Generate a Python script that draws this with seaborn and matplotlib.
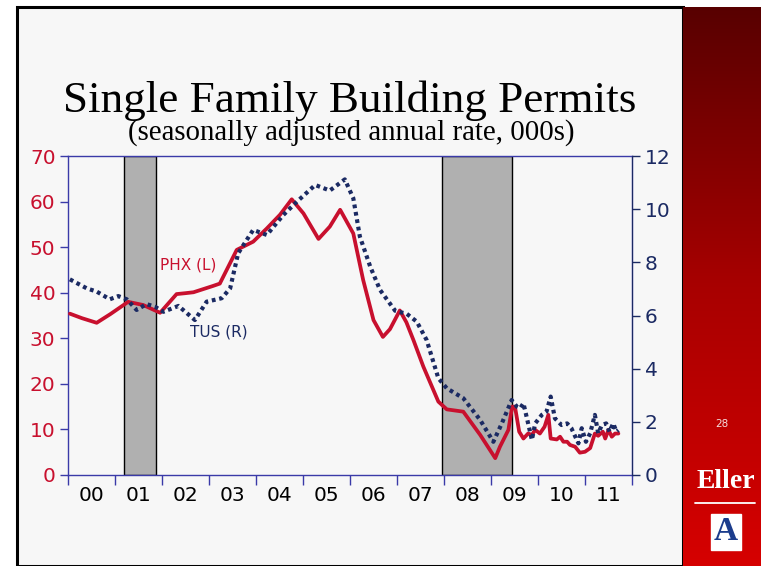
import numpy as np
import matplotlib
matplotlib.use("Agg")
import matplotlib.pyplot as plt
import seaborn as sns
from matplotlib.patches import Rectangle
from matplotlib.lines import Line2D

# Phoenix permits (left axis, 000s), x = years since Jan 2000
phx_t = [0.04, 0.3, 0.61, 0.9, 1.28, 1.6, 1.96, 2.31, 2.5, 2.67, 3.09, 3.23, 3.59, 3.94,
         4.23, 4.51, 4.76, 5.01, 5.33, 5.57, 5.79, 6.07, 6.28, 6.5, 6.7, 6.85, 7.06, 7.2,
         7.35, 7.56, 7.88, 8.06, 8.41, 8.77, 9.09, 9.19, 9.37, 9.45, 9.51, 9.6, 9.69, 9.79,
         9.87, 9.94, 10.04, 10.14, 10.22, 10.27, 10.4, 10.47, 10.54, 10.62, 10.68, 10.79,
         10.89, 11.0, 11.11, 11.21, 11.28, 11.38, 11.43, 11.5, 11.57, 11.64, 11.71]
phx_v = [35.4, 34.4, 33.4, 35.3, 38.0, 37.3, 35.6, 39.7, 39.9, 40.1, 41.5, 42.0, 49.4, 51.2,
         54.1, 57.1, 60.5, 57.4, 51.8, 54.5, 58.2, 53.0, 42.8, 34.0, 30.3, 32.0, 36.1, 33.5,
         29.6, 23.8, 16.1, 14.4, 13.9, 8.8, 3.7, 6.2, 9.9, 15.0, 15.0, 9.5, 8.0, 9.1,
         8.8, 9.9, 9.1, 10.6, 13.2, 8.0, 7.8, 8.4, 7.3, 7.3, 6.6, 6.2,
         4.9, 5.1, 5.9, 9.1, 8.6, 9.5, 8.0, 9.9, 8.4, 9.1, 9.1]

# Tucson permits (right axis, 000s)
tus_t = [0.04, 0.4, 0.61, 0.89, 1.07, 1.25, 1.46, 1.67, 1.85, 2.03, 2.35, 2.7, 2.95, 3.27,
         3.45, 3.62, 3.94, 4.23, 4.58, 4.87, 5.26, 5.57, 5.89, 6.07, 6.21, 6.43, 6.64,
         6.96, 7.21, 7.42, 7.63, 7.88, 8.06, 8.41, 8.77, 9.05, 9.23, 9.44, 9.55, 9.62,
         9.69, 9.79, 9.87, 9.94, 10.08, 10.18, 10.27, 10.36, 10.5, 10.62, 10.71, 10.86,
         10.93, 11.02, 11.11, 11.21, 11.28, 11.36, 11.45, 11.52, 11.6, 11.67, 11.71]
tus_v = [7.36, 7.02, 6.9, 6.61, 6.73, 6.61, 6.21, 6.43, 6.33, 6.14, 6.36, 5.83, 6.52, 6.65,
         7.02, 8.34, 9.22, 9.03, 9.78, 10.28, 10.91, 10.7, 11.12, 10.41, 8.97, 7.84, 6.96,
         6.18, 6.06, 5.77, 5.08, 3.64, 3.26, 2.89, 2.07, 1.25, 1.94, 2.82, 2.57, 2.51,
         2.7, 1.94, 1.32, 1.94, 2.26, 2.38, 2.95, 2.13, 1.88, 1.94, 1.76, 1.19,
         1.76, 1.25, 1.57, 2.26, 1.57, 1.88, 1.94, 1.63, 1.94, 1.63, 1.69]

# recessions (start, end) in years since 2000
rec_start = [1.19, 7.96]
rec_end = [1.87, 9.45]

year_labels = ["00", "01", "02", "03", "04", "05", "06", "07", "08", "09", "10", "11"]

RED = "#c8102e"
NAVY = "#1b2a63"
AXBLUE = "#3a3aa8"
BG = "#f7f7f7"

sns.set_style("white")
plt.rcParams["font.family"] = ["DejaVu Sans"]

W, H = 761, 566
fig = plt.figure(figsize=(W / 100, H / 100), dpi=100, facecolor="white")


def fx(px):
    return px / W


def fy(py):
    return 1 - py / H


# slide background with border
fig.patches.append(Rectangle((fx(17), fy(566)), fx(683) - fx(17), fy(7) - fy(566),
                             transform=fig.transFigure, facecolor=BG,
                             edgecolor="black", lw=2.2, zorder=-10))

# red side panel gradient
pan = fig.add_axes([fx(683), fy(566), fx(761) - fx(683), fy(7) - fy(566)])
grad = np.linspace(0, 1, 256).reshape(-1, 1)
cmap = matplotlib.colors.LinearSegmentedColormap.from_list("p", ["#580000", "#a80000", "#d60000"])
pan.imshow(grad, aspect="auto", cmap=cmap, extent=[0, 1, 1, 0])
pan.set_xlim(0, 1)
pan.set_ylim(1, 0)
pan.axis("off")
fig.text(fx(722), fy(424), "28", color="#f4dede", fontsize=7.5, ha="center", va="center")
fig.text(fx(726), fy(481), "Eller", color="white", fontsize=20, fontweight="bold",
         family="Liberation Serif", ha="center", va="center")
fig.add_artist(Line2D([fx(695), fx(755)], [fy(503), fy(503)], color="white", lw=1.3))
fig.text(fx(726), fy(532), "A", color="#1b3c8c", fontsize=24, fontweight="bold",
         family="Liberation Serif", ha="center", va="center",
         bbox=dict(boxstyle="square,pad=0.08", facecolor="white", edgecolor="white"))

# titles
fig.text(fx(350), fy(112), "Single Family Building Permits", family="Liberation Serif",
         fontsize=32.5, ha="center", va="baseline", color="black")
fig.text(fx(351), fy(140), "(seasonally adjusted annual rate, 000s)", family="Liberation Serif",
         fontsize=20.8, ha="center", va="baseline", color="black")

# main axes
ax = fig.add_axes([fx(68), fy(475), fx(632) - fx(68), fy(156) - fy(475)])
ax.set_facecolor(BG)
for s, e in zip(rec_start, rec_end):
    ax.axvspan(s, e, facecolor="#b0b0b0", edgecolor="black", lw=1, zorder=1)

sns.lineplot(x=phx_t, y=phx_v, ax=ax, color=RED, lw=2.7, sort=False, zorder=3,
             solid_joinstyle="round")
ax.set_xlim(0, 12)
ax.set_ylim(0, 70)
ax.set_xticks(range(13))
ax.set_xticklabels([])
ax.set_xticks(np.arange(12) + 0.5, minor=True)
ax.set_xticklabels(year_labels, minor=True)
ax.tick_params(axis="x", which="major", bottom=True, direction="out", length=7,
               color=AXBLUE, width=1)
ax.tick_params(axis="x", which="minor", bottom=True, length=0, pad=8, labelsize=14.5,
               labelcolor="black")
ax.set_yticks(range(0, 71, 10))
ax.tick_params(axis="y", left=True, direction="out", length=6, color=AXBLUE, width=1,
               labelsize=14.5, labelcolor=RED, pad=3)
for sp in ax.spines.values():
    sp.set_color(AXBLUE)
    sp.set_linewidth(1)
ax.set_xlabel("")
ax.set_ylabel("")

ax2 = ax.twinx()
sns.lineplot(x=tus_t, y=tus_v, ax=ax2, color=NAVY, lw=3, sort=False, zorder=4,
             linestyle=(0, (0.9, 0.9)))
ax2.set_ylim(0, 12)
ax2.set_yticks(range(0, 13, 2))
ax2.tick_params(axis="y", right=True, direction="out", length=6, color=NAVY, width=1,
                labelsize=14.5, labelcolor=NAVY, pad=3)
ax2.spines["right"].set_color(NAVY)
for k in ["left", "top", "bottom"]:
    ax2.spines[k].set_visible(False)
ax2.set_ylabel("")

ax.text(1.96, 46, "PHX (L)", color=RED, fontsize=11, ha="left", va="center")
ax.text(2.6, 31.4, "TUS (R)", color=NAVY, fontsize=11, ha="left", va="center")

fig.savefig("out.png", dpi=100, facecolor="white")
